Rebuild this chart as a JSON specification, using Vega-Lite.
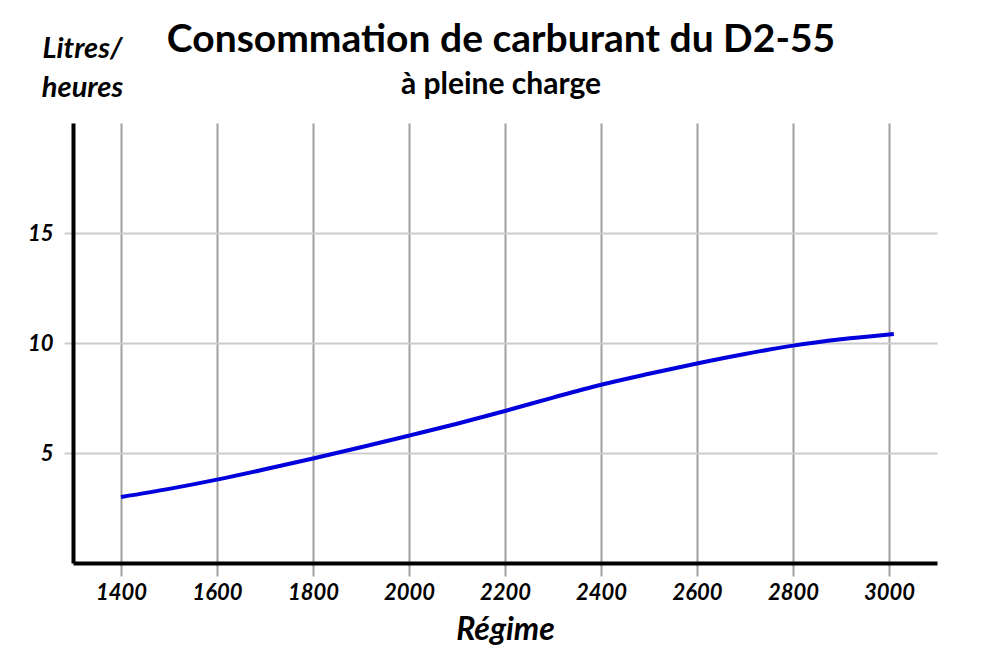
{
  "$schema": "https://vega.github.io/schema/vega-lite/v6.json",
  "autosize": {"type": "none"},
  "padding": {"left": 73, "top": 123, "right": 63, "bottom": 104},
  "width": 864,
  "height": 440,
  "background": "white",
  "config": {"view": {"stroke": null}, "font": "Lato"},
  "title": {
    "text": "Consommation de carburant du D2-55",
    "subtitle": "à pleine charge",
    "anchor": "middle",
    "frame": "group",
    "font": "Lato",
    "fontSize": 39,
    "fontWeight": "bold",
    "color": "black",
    "subtitleFont": "Lato",
    "subtitleFontSize": 30,
    "subtitleFontWeight": "bold",
    "subtitleColor": "black",
    "subtitlePadding": 10,
    "offset": 30,
    "dx": -4,
    "dy": 96
  },
  "data": {
    "values": [
      {"regime": 1400, "conso": 3.0},
      {"regime": 1500, "conso": 3.37},
      {"regime": 1600, "conso": 3.79},
      {"regime": 1700, "conso": 4.26},
      {"regime": 1800, "conso": 4.75},
      {"regime": 1900, "conso": 5.26},
      {"regime": 2000, "conso": 5.79},
      {"regime": 2100, "conso": 6.33},
      {"regime": 2200, "conso": 6.91},
      {"regime": 2300, "conso": 7.52},
      {"regime": 2400, "conso": 8.1},
      {"regime": 2500, "conso": 8.6},
      {"regime": 2600, "conso": 9.07},
      {"regime": 2700, "conso": 9.5},
      {"regime": 2800, "conso": 9.88},
      {"regime": 2900, "conso": 10.17},
      {"regime": 3000, "conso": 10.39},
      {"regime": 3010, "conso": 10.41}
    ]
  },
  "mark": {"type": "line", "color": "#0000dd", "strokeWidth": 4, "interpolate": "monotone"},
  "encoding": {
    "x": {
      "field": "regime",
      "type": "quantitative",
      "scale": {"domain": [1300, 3100], "nice": false, "zero": false},
      "axis": {
        "values": [1400, 1600, 1800, 2000, 2200, 2400, 2600, 2800, 3000],
        "format": "d",
        "title": "Régime",
        "titleFont": "Lato",
        "titleFontSize": 32,
        "titleFontWeight": "bold",
        "titleFontStyle": "italic",
        "titleColor": "black",
        "titleBaseline": "alphabetic",
        "titleY": 76,
        "grid": true,
        "gridColor": "#a0a0a0",
        "gridWidth": 2,
        "domainColor": "black",
        "domainWidth": 4,
        "tickColor": "#a0a0a0",
        "tickWidth": 2,
        "tickSize": 13,
        "labelPadding": 6,
        "labelFont": "Lato",
        "labelFontSize": 22,
        "labelFontWeight": "bold",
        "labelFontStyle": "italic",
        "labelColor": "black"
      }
    },
    "y": {
      "field": "conso",
      "type": "quantitative",
      "scale": {"domain": [0, 20], "nice": false},
      "axis": {
        "values": [5, 10, 15],
        "title": ["Litres/", "heures"],
        "titleFont": "Lato",
        "titleFontSize": 29,
        "titleFontWeight": "bold",
        "titleFontStyle": "italic",
        "titleColor": "black",
        "titleAngle": 0,
        "titleAlign": "center",
        "titleBaseline": "alphabetic",
        "titleX": 9,
        "titleY": -66,
        "titleLineHeight": 39,
        "grid": true,
        "gridColor": "#cccccc",
        "gridWidth": 2,
        "domainColor": "black",
        "domainWidth": 4,
        "tickColor": "#cccccc",
        "tickWidth": 2,
        "tickSize": 9,
        "labelPadding": 11,
        "labelFont": "Lato",
        "labelFontSize": 22,
        "labelFontWeight": "bold",
        "labelFontStyle": "italic",
        "labelColor": "black"
      }
    }
  }
}
